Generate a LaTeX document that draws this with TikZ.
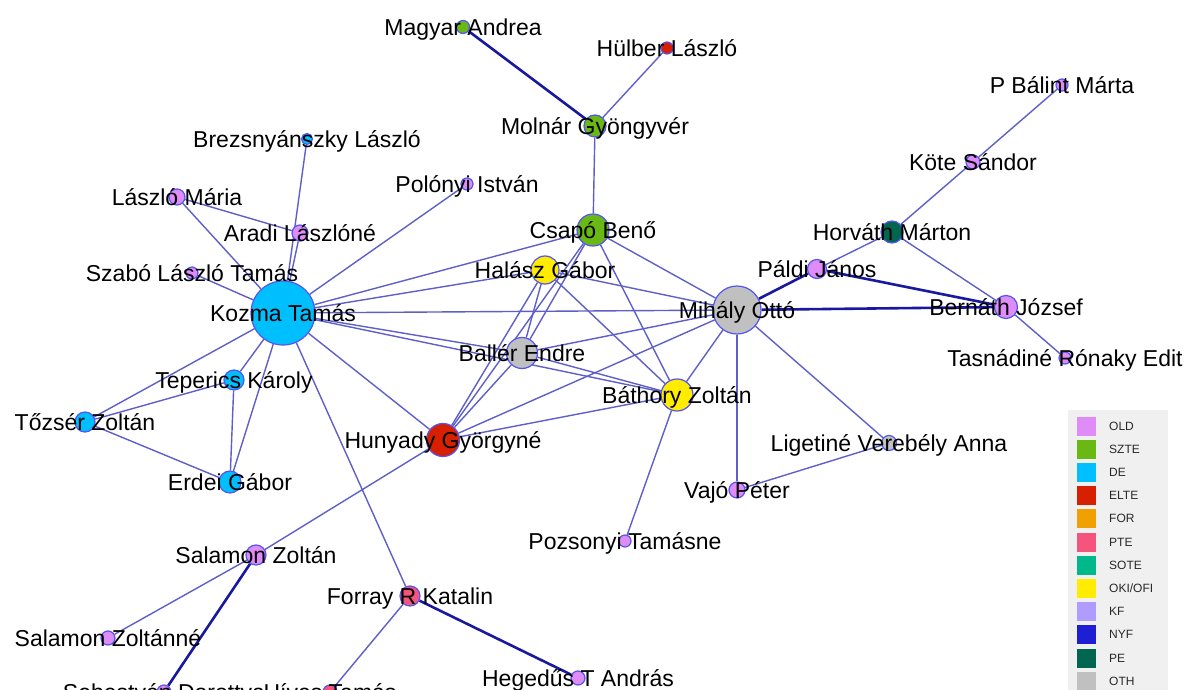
\documentclass[tikz,border=0pt]{standalone}
\usepackage{fontspec}
\setmainfont{Liberation Sans}
\pgfdeclarelayer{bg}
\pgfsetlayers{bg,main}
\definecolor{cOLD}{RGB}{224,140,248}
\definecolor{cSZTE}{RGB}{106,184,20}
\definecolor{cDE}{RGB}{0,191,255}
\definecolor{cELTE}{RGB}{214,32,0}
\definecolor{cFOR}{RGB}{240,160,0}
\definecolor{cPTE}{RGB}{245,85,125}
\definecolor{cSOTE}{RGB}{0,184,140}
\definecolor{cOKI}{RGB}{255,236,0}
\definecolor{cKF}{RGB}{176,156,255}
\definecolor{cNYF}{RGB}{30,30,210}
\definecolor{cPE}{RGB}{0,102,80}
\definecolor{cOTH}{RGB}{192,192,192}
\definecolor{nodeborder}{RGB}{85,85,240}
\definecolor{thinedge}{RGB}{95,95,200}
\definecolor{thickedge}{RGB}{25,25,160}
\definecolor{legbg}{RGB}{240,240,240}
\definecolor{legtext}{RGB}{40,40,40}
\tikzset{
  vtx/.style 2 args={circle, draw=nodeborder, line width=1.2pt, inner sep=0pt, fill=#1, minimum size=#2},
  lbl/.style={font=\fontsize{23}{26}\selectfont, text=black, inner sep=0pt, anchor=base, yshift=-8.2pt},
  tedge/.style={draw=thinedge, line width=1.4pt},
  bedge/.style={draw=thickedge, line width=2.6pt},
  legsq/.style={rectangle, inner sep=0pt, minimum size=19pt, fill=#1},
  legtxt/.style={font=\fontsize{12}{14}\selectfont, text=legtext, anchor=west, inner sep=0pt}
}
\begin{document}
\begin{tikzpicture}[x=1pt,y=-1pt]
\useasboundingbox (0,0) rectangle (1187,690);
% nodes
\node[vtx={cSZTE}{13pt}] (magyar) at (463,27) {};
\node[vtx={cELTE}{12pt}] (hulber) at (667,48) {};
\node[vtx={cSZTE}{22pt}] (molnar) at (595,126) {};
\node[vtx={cOLD}{12pt}] (pbalint) at (1062,85) {};
\node[vtx={cDE}{11pt}] (brezs) at (307,139) {};
\node[vtx={cOLD}{14pt}] (kote) at (973,162) {};
\node[vtx={cOLD}{12pt}] (polonyi) at (467,184) {};
\node[vtx={cOLD}{16pt}] (lmaria) at (177,197) {};
\node[vtx={cOLD}{16pt}] (aradi) at (300,233) {};
\node[vtx={cSZTE}{32pt}] (csapo) at (593,230) {};
\node[vtx={cPE}{22pt}] (horvath) at (892,232) {};
\node[vtx={cOLD}{12pt}] (szabo) at (192,273) {};
\node[vtx={cOKI}{28pt}] (halasz) at (545,270) {};
\node[vtx={cOLD}{19pt}] (paldi) at (817,269) {};
\node[vtx={cDE}{64pt}] (kozma) at (283,313) {};
\node[vtx={cOTH}{48pt}] (mihaly) at (737,310) {};
\node[vtx={cOLD}{23pt}] (bernath) at (1006,307) {};
\node[vtx={cOTH}{31pt}] (baller) at (522,353) {};
\node[vtx={cOLD}{12pt}] (tasnadi) at (1065,358) {};
\node[vtx={cDE}{20pt}] (teperics) at (234,380) {};
\node[vtx={cOKI}{32pt}] (bathory) at (677,395) {};
\node[vtx={cDE}{20pt}] (tozser) at (85,422) {};
\node[vtx={cELTE}{33pt}] (hunyady) at (443,440) {};
\node[vtx={cOTH}{15pt}] (ligetine) at (889,443) {};
\node[vtx={cDE}{22pt}] (erdei) at (230,482) {};
\node[vtx={cOLD}{16pt}] (vajo) at (737,490) {};
\node[vtx={cOLD}{12pt}] (pozsonyi) at (625,541) {};
\node[vtx={cOLD}{20pt}] (szoltan) at (256,555) {};
\node[vtx={cPTE}{20pt}] (forray) at (410,596) {};
\node[vtx={cOLD}{14pt}] (szoltanne) at (108,638) {};
\node[vtx={cOLD}{14pt}] (hegedus) at (578,678) {};
\node[vtx={cOLD}{14pt}] (sebestyen) at (164,692) {};
\node[vtx={cPTE}{14pt}] (hives) at (330,692) {};
% edges
\begin{pgfonlayer}{bg}
\fill[white] (0,0) rectangle (1187,690);
\foreach \a/\b in {hulber/molnar, molnar/csapo, pbalint/kote, kote/horvath, horvath/paldi,
  horvath/bernath, bernath/tasnadi, brezs/kozma, aradi/kozma, lmaria/aradi, lmaria/kozma,
  szabo/kozma, polonyi/kozma, kozma/csapo, kozma/halasz, kozma/mihaly, kozma/baller,
  kozma/bathory, kozma/teperics, kozma/tozser, kozma/erdei, kozma/hunyady, kozma/forray,
  teperics/tozser, teperics/erdei, tozser/erdei, hunyady/szoltan, szoltan/szoltanne,
  forray/hives, hunyady/halasz, hunyady/csapo, hunyady/baller, baller/halasz, baller/csapo,
  csapo/mihaly, csapo/bathory, halasz/mihaly, halasz/bathory, baller/mihaly, baller/bathory,
  hunyady/mihaly, hunyady/bathory, mihaly/bathory, mihaly/vajo, mihaly/ligetine,
  ligetine/vajo, bathory/pozsonyi}
  \draw[tedge] (\a) -- (\b);
\foreach \a/\b in {magyar/molnar, mihaly/paldi, paldi/bernath, mihaly/bernath,
  szoltan/sebestyen, forray/hegedus}
  \draw[bedge] (\a) -- (\b);
\end{pgfonlayer}
% labels
\node[lbl] (tmagyar) at (magyar) {Magyar Andrea};
\node[lbl] (thulber) at (hulber) {Hülber László};
\node[lbl] (tmolnar) at (molnar) {Molnár Gyöngyvér};
\node[lbl] (tpbalint) at (pbalint) {P Bálint Márta};
\node[lbl] (tbrezs) at (brezs) {Brezsnyánszky László};
\node[lbl] (tkote) at (kote) {Köte Sándor};
\node[lbl] (tpolonyi) at (polonyi) {Polónyi István};
\node[lbl] (tlmaria) at (lmaria) {László Mária};
\node[lbl] (taradi) at (aradi) {Aradi Lászlóné};
\node[lbl] (tcsapo) at (csapo) {Csapó Benő};
\node[lbl] (thorvath) at (horvath) {Horváth Márton};
\node[lbl] (tszabo) at (szabo) {Szabó László Tamás};
\node[lbl] (thalasz) at (halasz) {Halász Gábor};
\node[lbl] (tpaldi) at (paldi) {Páldi János};
\node[lbl] (tkozma) at (kozma) {Kozma Tamás};
\node[lbl] (tmihaly) at (mihaly) {Mihály Ottó};
\node[lbl] (tbernath) at (bernath) {Bernáth József};
\node[lbl] (tballer) at (baller) {Ballér Endre};
\node[lbl] (ttasnadi) at (tasnadi) {Tasnádiné Rónaky Edit};
\node[lbl] (tteperics) at (teperics) {Teperics Károly};
\node[lbl] (tbathory) at (bathory) {Báthory Zoltán};
\node[lbl] (ttozser) at (tozser) {Tőzsér Zoltán};
\node[lbl] (thunyady) at (hunyady) {Hunyady Györgyné};
\node[lbl] (tligetine) at (ligetine) {Ligetiné Verebély Anna};
\node[lbl] (terdei) at (erdei) {Erdei Gábor};
\node[lbl] (tvajo) at (vajo) {Vajó Péter};
\node[lbl] (tpozsonyi) at (pozsonyi) {Pozsonyi Tamásne};
\node[lbl] (tszoltan) at (szoltan) {Salamon Zoltán};
\node[lbl] (tforray) at (forray) {Forray R Katalin};
\node[lbl] (tszoltanne) at (szoltanne) {Salamon Zoltánné};
\node[lbl] (thegedus) at (hegedus) {Hegedűs T András};
\node[lbl] (tsebestyen) at (sebestyen) {Sebestyén Dorottya};
\node[lbl] (thives) at (hives) {Híves Tamás};
% legend
\fill[legbg] (1068,410) rectangle (1168,692);
\foreach \c/\t [count=\i from 0] in {cOLD/OLD, cSZTE/SZTE, cDE/DE, cELTE/ELTE, cFOR/FOR,
  cPTE/PTE, cSOTE/SOTE, cOKI/OKI\slash OFI, cKF/KF, cNYF/NYF, cPE/PE, cOTH/OTH}
{
  \node[legsq=\c] (sq\i) at (1086,{426+23.2*\i}) {};
  \node[legtxt] (lt\i) at (1109,{426+23.2*\i}) {\t};
}
\end{tikzpicture}
\end{document}
